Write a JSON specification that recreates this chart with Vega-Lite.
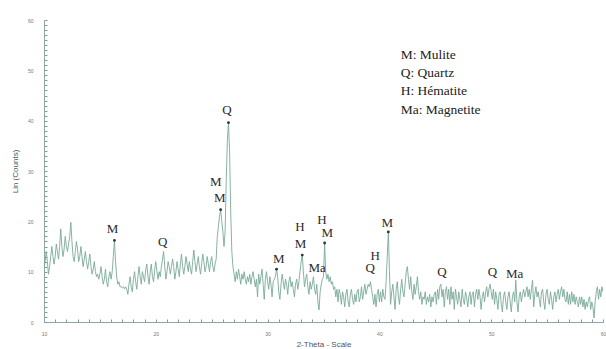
{
  "$schema": "https://vega.github.io/schema/vega-lite/v6.json",
  "width": 559,
  "height": 302,
  "autosize": {"type": "none"},
  "padding": {"left": 44, "top": 20, "right": 3, "bottom": 27},
  "background": "white",
  "config": {"view": {"stroke": null}},
  "datasets": {
    "scan": [
      {"t":10.0,"c":10.5},{"t":10.1,"c":12},{"t":10.2,"c":14},{"t":10.3,"c":12},{"t":10.4,"c":9.5},{"t":10.5,"c":11},{"t":10.6,"c":13},{"t":10.7,"c":15},{"t":10.8,"c":13},{"t":10.9,"c":11.5},
      {"t":11.0,"c":13},{"t":11.1,"c":15.5},{"t":11.2,"c":14},{"t":11.3,"c":12.5},{"t":11.4,"c":15},{"t":11.5,"c":18.5},{"t":11.6,"c":15},{"t":11.7,"c":13},{"t":11.8,"c":14.5},{"t":11.9,"c":17},
      {"t":12.0,"c":15},{"t":12.1,"c":14},{"t":12.2,"c":15.5},{"t":12.3,"c":17},{"t":12.4,"c":19.8},{"t":12.5,"c":16},{"t":12.6,"c":13},{"t":12.7,"c":12},{"t":12.8,"c":14},{"t":12.9,"c":16},
      {"t":13.0,"c":14.5},{"t":13.1,"c":12},{"t":13.2,"c":13},{"t":13.3,"c":15},{"t":13.4,"c":13},{"t":13.5,"c":11},{"t":13.6,"c":12.5},{"t":13.7,"c":14},{"t":13.8,"c":12},{"t":13.9,"c":10.5},
      {"t":14.0,"c":12},{"t":14.1,"c":13.5},{"t":14.2,"c":11},{"t":14.3,"c":9.5},{"t":14.4,"c":10.5},{"t":14.5,"c":12},{"t":14.6,"c":10},{"t":14.7,"c":9},{"t":14.8,"c":9.5},{"t":14.9,"c":8.5},
      {"t":15.0,"c":9.5},{"t":15.1,"c":11},{"t":15.2,"c":9},{"t":15.3,"c":7.5},{"t":15.4,"c":8.5},{"t":15.5,"c":10.5},{"t":15.6,"c":8},{"t":15.7,"c":7},{"t":15.8,"c":9},{"t":15.9,"c":10},
      {"t":16.0,"c":8.5},{"t":16.1,"c":10},{"t":16.2,"c":13},{"t":16.3,"c":16.2},{"t":16.4,"c":12},{"t":16.5,"c":9},{"t":16.6,"c":7.5},{"t":16.7,"c":8},{"t":16.8,"c":7},{"t":16.9,"c":7},
      {"t":17.0,"c":6.8},{"t":17.1,"c":7},{"t":17.2,"c":6.6},{"t":17.3,"c":7},{"t":17.4,"c":6.5},{"t":17.5,"c":5.5},{"t":17.6,"c":7.5},{"t":17.7,"c":9},{"t":17.8,"c":7},{"t":17.9,"c":6},
      {"t":18.0,"c":8.5},{"t":18.1,"c":10},{"t":18.2,"c":8},{"t":18.3,"c":6.5},{"t":18.4,"c":9},{"t":18.5,"c":11},{"t":18.6,"c":9},{"t":18.7,"c":7.5},{"t":18.8,"c":10},{"t":18.9,"c":9},
      {"t":19.0,"c":8},{"t":19.1,"c":10.5},{"t":19.2,"c":11.5},{"t":19.3,"c":9},{"t":19.4,"c":7.5},{"t":19.5,"c":10},{"t":19.6,"c":11.5},{"t":19.7,"c":9},{"t":19.8,"c":8},{"t":19.9,"c":10.5},
      {"t":20.0,"c":12},{"t":20.1,"c":10},{"t":20.2,"c":8.5},{"t":20.3,"c":10},{"t":20.4,"c":9},{"t":20.5,"c":11},{"t":20.6,"c":12.5},{"t":20.7,"c":14},{"t":20.8,"c":11},{"t":20.9,"c":8.5},
      {"t":21.0,"c":10},{"t":21.1,"c":12},{"t":21.2,"c":11},{"t":21.3,"c":9.5},{"t":21.4,"c":11},{"t":21.5,"c":12.5},{"t":21.6,"c":11},{"t":21.7,"c":8.5},{"t":21.8,"c":10},{"t":21.9,"c":12},
      {"t":22.0,"c":10.5},{"t":22.1,"c":9},{"t":22.2,"c":11.5},{"t":22.3,"c":13.5},{"t":22.4,"c":11},{"t":22.5,"c":9.5},{"t":22.6,"c":11},{"t":22.7,"c":13},{"t":22.8,"c":11.5},{"t":22.9,"c":10},
      {"t":23.0,"c":12},{"t":23.1,"c":10.5},{"t":23.2,"c":9.5},{"t":23.3,"c":12},{"t":23.4,"c":14.3},{"t":23.5,"c":12},{"t":23.6,"c":10},{"t":23.7,"c":11.5},{"t":23.8,"c":13},{"t":23.9,"c":11},
      {"t":24.0,"c":9.5},{"t":24.1,"c":11.5},{"t":24.2,"c":13.5},{"t":24.3,"c":12},{"t":24.4,"c":10},{"t":24.5,"c":11},{"t":24.6,"c":13},{"t":24.7,"c":11.5},{"t":24.8,"c":10},{"t":24.9,"c":12},
      {"t":25.0,"c":13},{"t":25.1,"c":11},{"t":25.2,"c":10},{"t":25.3,"c":11.5},{"t":25.4,"c":12.5},{"t":25.5,"c":17},{"t":25.6,"c":19},{"t":25.7,"c":21},{"t":25.8,"c":22.3},{"t":25.9,"c":20},
      {"t":26.0,"c":18},{"t":26.1,"c":15},{"t":26.2,"c":18},{"t":26.3,"c":28},{"t":26.4,"c":36},{"t":26.5,"c":39.6},{"t":26.6,"c":34},{"t":26.7,"c":22},{"t":26.8,"c":14},{"t":26.9,"c":11},
      {"t":27.0,"c":9.5},{"t":27.1,"c":8},{"t":27.2,"c":10},{"t":27.3,"c":8.5},{"t":27.4,"c":10.5},{"t":27.5,"c":9},{"t":27.6,"c":7.5},{"t":27.7,"c":9.5},{"t":27.8,"c":8.5},{"t":27.9,"c":10},
      {"t":28.0,"c":8.5},{"t":28.1,"c":7.5},{"t":28.2,"c":9},{"t":28.3,"c":8},{"t":28.4,"c":9.5},{"t":28.5,"c":7.5},{"t":28.6,"c":9},{"t":28.7,"c":10},{"t":28.8,"c":8.5},{"t":28.9,"c":7},
      {"t":29.0,"c":8.5},{"t":29.1,"c":5},{"t":29.2,"c":9.5},{"t":29.3,"c":7.5},{"t":29.4,"c":9},{"t":29.5,"c":10.5},{"t":29.6,"c":7.5},{"t":29.7,"c":4.5},{"t":29.8,"c":8.5},{"t":29.9,"c":10},
      {"t":30.0,"c":8},{"t":30.1,"c":6.5},{"t":30.2,"c":9},{"t":30.3,"c":7.5},{"t":30.4,"c":5},{"t":30.5,"c":8},{"t":30.6,"c":8.5},{"t":30.7,"c":9},{"t":30.8,"c":10.5},{"t":30.9,"c":9},
      {"t":31.0,"c":6},{"t":31.1,"c":4.5},{"t":31.2,"c":7.5},{"t":31.3,"c":9.5},{"t":31.4,"c":8},{"t":31.5,"c":6.5},{"t":31.6,"c":8.5},{"t":31.7,"c":7.5},{"t":31.8,"c":5.5},{"t":31.9,"c":8},
      {"t":32.0,"c":9},{"t":32.1,"c":7},{"t":32.2,"c":8},{"t":32.3,"c":6.5},{"t":32.4,"c":5},{"t":32.5,"c":7.5},{"t":32.6,"c":8.5},{"t":32.7,"c":6.5},{"t":32.8,"c":8},{"t":32.9,"c":10},
      {"t":33.0,"c":12},{"t":33.1,"c":13.3},{"t":33.2,"c":10},{"t":33.3,"c":7},{"t":33.4,"c":8.5},{"t":33.5,"c":9.5},{"t":33.6,"c":7},{"t":33.7,"c":5.5},{"t":33.8,"c":8},{"t":33.9,"c":6.5},
      {"t":34.0,"c":7.5},{"t":34.1,"c":9},{"t":34.2,"c":6.5},{"t":34.3,"c":5.5},{"t":34.4,"c":7.5},{"t":34.5,"c":4},{"t":34.6,"c":2.4},{"t":34.7,"c":6},{"t":34.8,"c":7.5},{"t":34.9,"c":8.5},
      {"t":35.0,"c":9},{"t":35.1,"c":15.7},{"t":35.2,"c":10},{"t":35.3,"c":8.5},{"t":35.4,"c":9.5},{"t":35.5,"c":8},{"t":35.6,"c":9},{"t":35.7,"c":7.5},{"t":35.8,"c":8},{"t":35.9,"c":6.5},
      {"t":36.0,"c":7},{"t":36.1,"c":5},{"t":36.2,"c":6.5},{"t":36.3,"c":4},{"t":36.4,"c":6.5},{"t":36.5,"c":5.5},{"t":36.6,"c":3.5},{"t":36.7,"c":6},{"t":36.8,"c":5},{"t":36.9,"c":3},
      {"t":37.0,"c":5.5},{"t":37.1,"c":6.5},{"t":37.2,"c":4},{"t":37.3,"c":3},{"t":37.4,"c":5.5},{"t":37.5,"c":6.5},{"t":37.6,"c":4.5},{"t":37.7,"c":3.5},{"t":37.8,"c":5.5},{"t":37.9,"c":4},
      {"t":38.0,"c":6},{"t":38.1,"c":6.5},{"t":38.2,"c":4},{"t":38.3,"c":5},{"t":38.4,"c":7},{"t":38.5,"c":4.5},{"t":38.6,"c":6},{"t":38.7,"c":7.5},{"t":38.8,"c":5.5},{"t":38.9,"c":6.5},
      {"t":39.0,"c":7.5},{"t":39.1,"c":7},{"t":39.2,"c":8},{"t":39.3,"c":6.5},{"t":39.4,"c":5},{"t":39.5,"c":3.5},{"t":39.6,"c":5.5},{"t":39.7,"c":3},{"t":39.8,"c":5.5},{"t":39.9,"c":6.5},
      {"t":40.0,"c":4},{"t":40.1,"c":6},{"t":40.2,"c":4},{"t":40.3,"c":6.5},{"t":40.4,"c":5},{"t":40.5,"c":4.5},{"t":40.6,"c":8},{"t":40.7,"c":13},{"t":40.8,"c":17.9},{"t":40.9,"c":10},
      {"t":41.0,"c":3.5},{"t":41.1,"c":6},{"t":41.2,"c":7.5},{"t":41.3,"c":5},{"t":41.4,"c":2.5},{"t":41.5,"c":6.5},{"t":41.6,"c":8},{"t":41.7,"c":5},{"t":41.8,"c":3.5},{"t":41.9,"c":6.5},
      {"t":42.0,"c":8.5},{"t":42.1,"c":6},{"t":42.2,"c":5},{"t":42.3,"c":7.5},{"t":42.4,"c":10},{"t":42.5,"c":11},{"t":42.6,"c":8.5},{"t":42.7,"c":6.5},{"t":42.8,"c":9},{"t":42.9,"c":6},
      {"t":43.0,"c":4.5},{"t":43.1,"c":7.5},{"t":43.2,"c":5.5},{"t":43.3,"c":7},{"t":43.4,"c":9},{"t":43.5,"c":6},{"t":43.6,"c":4.5},{"t":43.7,"c":6},{"t":43.8,"c":3.5},{"t":43.9,"c":5},
      {"t":44.0,"c":4.5},{"t":44.1,"c":6},{"t":44.2,"c":3.5},{"t":44.3,"c":5},{"t":44.4,"c":4},{"t":44.5,"c":5.5},{"t":44.6,"c":3},{"t":44.7,"c":5},{"t":44.8,"c":4},{"t":44.9,"c":5.5},
      {"t":45.0,"c":6},{"t":45.1,"c":3.5},{"t":45.2,"c":6.5},{"t":45.3,"c":4.5},{"t":45.4,"c":7},{"t":45.5,"c":7.5},{"t":45.6,"c":5},{"t":45.7,"c":6.5},{"t":45.8,"c":3},{"t":45.9,"c":6},
      {"t":46.0,"c":7},{"t":46.1,"c":4.5},{"t":46.2,"c":6.5},{"t":46.3,"c":3.5},{"t":46.4,"c":7},{"t":46.5,"c":4.5},{"t":46.6,"c":6},{"t":46.7,"c":2.5},{"t":46.8,"c":6.5},{"t":46.9,"c":5},
      {"t":47.0,"c":3.5},{"t":47.1,"c":6},{"t":47.2,"c":4.5},{"t":47.3,"c":3},{"t":47.4,"c":6.5},{"t":47.5,"c":4.5},{"t":47.6,"c":3.5},{"t":47.7,"c":6},{"t":47.8,"c":5},{"t":47.9,"c":3},
      {"t":48.0,"c":5},{"t":48.1,"c":6},{"t":48.2,"c":3.5},{"t":48.3,"c":5.5},{"t":48.4,"c":6},{"t":48.5,"c":3},{"t":48.6,"c":5.5},{"t":48.7,"c":6.5},{"t":48.8,"c":4.5},{"t":48.9,"c":6.5},
      {"t":49.0,"c":5},{"t":49.1,"c":2.5},{"t":49.2,"c":5},{"t":49.3,"c":6},{"t":49.4,"c":4},{"t":49.5,"c":6},{"t":49.6,"c":7},{"t":49.7,"c":5},{"t":49.8,"c":6.5},{"t":49.9,"c":7.5},
      {"t":50.0,"c":6},{"t":50.1,"c":4.5},{"t":50.2,"c":6.5},{"t":50.3,"c":3.5},{"t":50.4,"c":6},{"t":50.5,"c":4.5},{"t":50.6,"c":2.5},{"t":50.7,"c":5.5},{"t":50.8,"c":6},{"t":50.9,"c":3.5},
      {"t":51.0,"c":2},{"t":51.1,"c":5},{"t":51.2,"c":6},{"t":51.3,"c":4},{"t":51.4,"c":2.5},{"t":51.5,"c":5},{"t":51.6,"c":6},{"t":51.7,"c":4},{"t":51.8,"c":2},{"t":51.9,"c":5},
      {"t":52.0,"c":6},{"t":52.1,"c":4},{"t":52.2,"c":8.3},{"t":52.3,"c":4},{"t":52.4,"c":2},{"t":52.5,"c":5},{"t":52.6,"c":6},{"t":52.7,"c":4},{"t":52.8,"c":5.5},{"t":52.9,"c":6.5},
      {"t":53.0,"c":5},{"t":53.1,"c":6},{"t":53.2,"c":7},{"t":53.3,"c":5},{"t":53.4,"c":6.5},{"t":53.5,"c":4.5},{"t":53.6,"c":6.5},{"t":53.7,"c":8.3},{"t":53.8,"c":3},{"t":53.9,"c":5.5},
      {"t":54.0,"c":7},{"t":54.1,"c":5},{"t":54.2,"c":6},{"t":54.3,"c":4.5},{"t":54.4,"c":3},{"t":54.5,"c":6},{"t":54.6,"c":6.5},{"t":54.7,"c":4},{"t":54.8,"c":2.5},{"t":54.9,"c":5.5},
      {"t":55.0,"c":6.5},{"t":55.1,"c":4.5},{"t":55.2,"c":3.5},{"t":55.3,"c":6},{"t":55.4,"c":4.5},{"t":55.5,"c":2.5},{"t":55.6,"c":5},{"t":55.7,"c":6},{"t":55.8,"c":4},{"t":55.9,"c":5.5},
      {"t":56.0,"c":6.5},{"t":56.1,"c":4.5},{"t":56.2,"c":6},{"t":56.3,"c":7},{"t":56.4,"c":5},{"t":56.5,"c":6.5},{"t":56.6,"c":4.5},{"t":56.7,"c":4},{"t":56.8,"c":6},{"t":56.9,"c":3.5},
      {"t":57.0,"c":5.5},{"t":57.1,"c":3.5},{"t":57.2,"c":6},{"t":57.3,"c":4},{"t":57.4,"c":5.5},{"t":57.5,"c":3.5},{"t":57.6,"c":5},{"t":57.7,"c":4},{"t":57.8,"c":3},{"t":57.9,"c":5},
      {"t":58.0,"c":3.5},{"t":58.1,"c":5},{"t":58.2,"c":3},{"t":58.3,"c":4.5},{"t":58.4,"c":2.5},{"t":58.5,"c":4},{"t":58.6,"c":3},{"t":58.7,"c":4.5},{"t":58.8,"c":5},{"t":58.9,"c":2.5},
      {"t":59.0,"c":4},{"t":59.1,"c":3},{"t":59.2,"c":0.8},{"t":59.3,"c":4},{"t":59.4,"c":6},{"t":59.5,"c":7},{"t":59.6,"c":4.5},{"t":59.7,"c":6.5},{"t":59.8,"c":5},{"t":59.9,"c":7},
      {"t":60.0,"c":6}
    ],
    "peaks": [
      {"t":16.3,"c":16.2},{"t":25.8,"c":22.3},{"t":26.5,"c":39.6},{"t":30.8,"c":10.5},
      {"t":33.1,"c":13.3},{"t":35.1,"c":15.7},{"t":40.8,"c":17.9}
    ],
    "labels": [
      {"t":16.13,"c":18.5,"s":"M"},{"t":20.62,"c":15.9,"s":"Q"},{"t":25.37,"c":27.8,"s":"M"},
      {"t":25.73,"c":24.7,"s":"M"},{"t":26.36,"c":42.1,"s":"Q"},{"t":31.0,"c":12.5,"s":"M"},
      {"t":32.9,"c":18.9,"s":"H"},{"t":32.95,"c":15.5,"s":"M"},{"t":34.43,"c":10.7,"s":"Ma"},
      {"t":34.87,"c":20.3,"s":"H"},{"t":35.33,"c":17.7,"s":"M"},{"t":39.18,"c":10.7,"s":"Q"},
      {"t":39.63,"c":13.1,"s":"H"},{"t":40.71,"c":19.6,"s":"M"},{"t":45.6,"c":9.9,"s":"Q"},
      {"t":50.1,"c":9.9,"s":"Q"},{"t":52.1,"c":9.5,"s":"Ma"}
    ],
    "legend": [
      {"t":41.9,"c":53.1,"s":"M: Mulite"},{"t":41.9,"c":49.5,"s":"Q: Quartz"},
      {"t":41.9,"c":45.9,"s":"H: Hématite"},{"t":41.9,"c":42.1,"s":"Ma: Magnetite"}
    ]
  },
  "layer": [
    {
      "data": {"name": "scan"},
      "mark": {"type": "line", "color": "#79a99a", "strokeWidth": 0.9, "clip": true},
      "encoding": {
        "x": {
          "field": "t", "type": "quantitative",
          "scale": {"domain": [10, 60], "nice": false, "zero": false},
          "axis": {
            "title": "2-Theta - Scale",
            "values": [10,11,12,13,14,15,16,17,18,19,20,21,22,23,24,25,26,27,28,29,30,31,32,33,34,35,36,37,38,39,40,41,42,43,44,45,46,47,48,49,50,51,52,53,54,55,56,57,58,59,60],
            "tickCount": 200,
            "format": "d",
            "labelExpr": "datum.value % 10 === 0 ? datum.label : ''",
            "labelOverlap": false,
            "labelFlush": false,
            "grid": false,
            "domainColor": "#8fa9a2",
            "tickColor": "#7f9b94",
            "tickWidth": 1,
            "tickSize": -3,
            "labelPadding": 12,
            "labelFontSize": 5,
            "labelColor": "#777",
            "labelFont": "Liberation Sans",
            "titleFont": "Liberation Sans",
            "titleFontSize": 8,
            "titleFontWeight": "normal",
            "titleColor": "#555",
            "titlePadding": 4
          }
        },
        "y": {
          "field": "c", "type": "quantitative",
          "scale": {"domain": [0, 60], "nice": false},
          "axis": {
            "title": "Lin (Counts)",
            "values": [0,1,2,3,4,5,6,7,8,9,10,11,12,13,14,15,16,17,18,19,20,21,22,23,24,25,26,27,28,29,30,31,32,33,34,35,36,37,38,39,40,41,42,43,44,45,46,47,48,49,50,51,52,53,54,55,56,57,58,59,60],
            "tickCount": 200,
            "format": "d",
            "labelExpr": "datum.value % 10 === 0 ? datum.label : ''",
            "labelOverlap": false,
            "labelFlush": false,
            "grid": false,
            "domainColor": "#8fa9a2",
            "tickColor": "#7f9b94",
            "tickWidth": 1,
            "tickSize": -3,
            "labelPadding": 14,
            "labelFontSize": 5,
            "labelColor": "#777",
            "labelFont": "Liberation Sans",
            "titleFont": "Liberation Sans",
            "titleFontSize": 8,
            "titleFontWeight": "normal",
            "titleColor": "#555",
            "titlePadding": 8
          }
        }
      }
    },
    {
      "data": {"name": "peaks"},
      "mark": {"type": "point", "filled": true, "size": 8, "color": "#333", "opacity": 1},
      "encoding": {
        "x": {"field": "t", "type": "quantitative"},
        "y": {"field": "c", "type": "quantitative"}
      }
    },
    {
      "data": {"name": "labels"},
      "mark": {"type": "text", "font": "Liberation Serif", "fontSize": 13, "color": "#2a2a2a", "align": "center", "baseline": "middle"},
      "encoding": {
        "x": {"field": "t", "type": "quantitative"},
        "y": {"field": "c", "type": "quantitative"},
        "text": {"field": "s"}
      }
    },
    {
      "data": {"name": "legend"},
      "mark": {"type": "text", "font": "Liberation Serif", "fontSize": 13.5, "color": "#222", "align": "left", "baseline": "middle"},
      "encoding": {
        "x": {"field": "t", "type": "quantitative"},
        "y": {"field": "c", "type": "quantitative"},
        "text": {"field": "s"}
      }
    }
  ]
}
